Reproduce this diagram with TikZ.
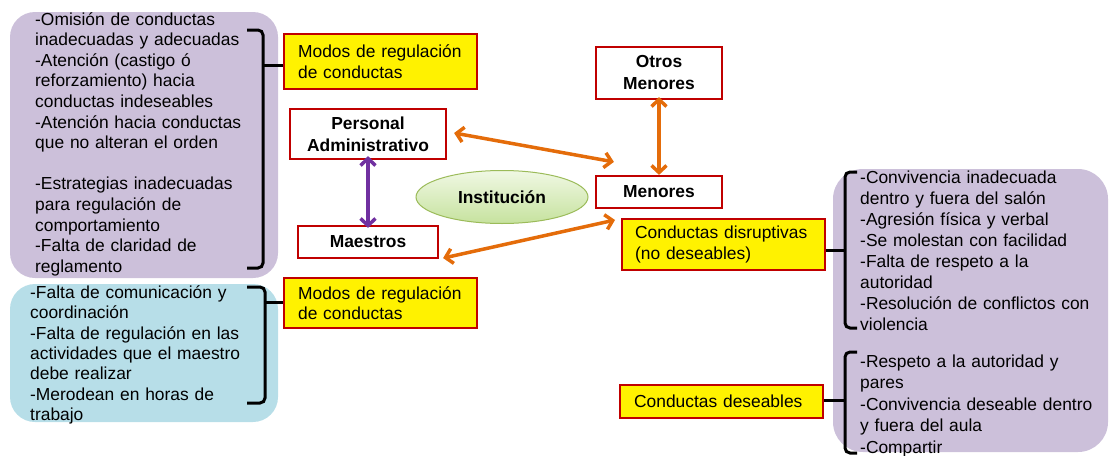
\documentclass[tikz,border=0pt]{standalone}
\usepackage{fontspec}
\setmainfont{Liberation Sans}
\usetikzlibrary{arrows.meta,shapes.geometric}
\definecolor{boxred}{HTML}{C00000}
\definecolor{lav}{HTML}{CCC0DA}
\definecolor{lblue}{HTML}{B7DEE8}
\definecolor{arrorange}{HTML}{E46C0A}
\definecolor{arrpurple}{HTML}{7030A0}
\definecolor{elgreen}{HTML}{9BBB59}
\definecolor{eltop}{RGB}{240,248,228}
\definecolor{elbot}{RGB}{198,226,158}
\begin{document}
\begin{tikzpicture}[x=1pt,y=-1pt,
  every node/.style={font=\fontsize{17.4}{20.6}\selectfont},
  redbox/.style={draw=boxred, line width=2.2pt, fill=white, inner sep=0pt,
    font=\fontsize{17.4}{22}\selectfont\bfseries, align=center},
  yelbox/.style={draw=boxred, line width=2.2pt, fill=yellow, inner ysep=0pt,
    anchor=north west, align=left},
  listtext/.style={anchor=base west, inner sep=0pt, align=left, text width=#1},
  dbl/.style={{Straight Barb[length=7pt,width=15pt]}-{Straight Barb[length=7pt,width=15pt]},
    line width=3.5pt, line cap=round},
  brk/.style={line width=3pt, rounded corners=5pt},
]
\useasboundingbox (0,0) rectangle (1110,455);

% background panels
\fill[lav, rounded corners=25pt] (10,12) rectangle (278,278);
\fill[lblue, rounded corners=25pt] (10,284) rectangle (278,422);
\fill[lav, rounded corners=30pt] (833,169) rectangle (1108,452);

% list texts
\node[listtext=245pt] (t1) at (35,25) {-Omisión de conductas\\inadecuadas y adecuadas\\-Atención (castigo ó\\reforzamiento) hacia\\conductas indeseables\\-Atención hacia conductas\\que no alteran el orden\\[20.6pt]-Estrategias inadecuadas\\para regulación de\\comportamiento\\-Falta de claridad de\\reglamento};
\node[listtext=245pt, font=\fontsize{17.4}{20.3}\selectfont] (t2) at (30,298.5) {-Falta de comunicación y\\coordinación\\-Falta de regulación en las\\actividades que el maestro\\debe realizar\\-Merodean en horas de\\trabajo};
\node[listtext=250pt, font=\fontsize{17.4}{21.1}\selectfont] (t3) at (860,183) {-Convivencia inadecuada\\dentro y fuera del salón\\-Agresión física y verbal\\-Se molestan con facilidad\\-Falta de respeto a la\\autoridad\\-Resolución de conflictos con\\violencia};
\node[listtext=250pt, font=\fontsize{17.4}{21.6}\selectfont] (t4) at (860,367) {-Respeto a la autoridad y\\pares\\-Convivencia deseable dentro\\y fuera del aula\\-Compartir};

% yellow boxes
\node[yelbox, minimum width=193pt, minimum height=55pt, inner xsep=14pt, text width=165pt] (mod1) at (283,33) {Modos de regulación\\de conductas};
\node[yelbox, minimum width=193pt, minimum height=50pt, inner xsep=14pt, text width=165pt] (mod2) at (283,277) {Modos de regulación\\de conductas};
\node[yelbox, minimum width=203pt, minimum height=51pt, inner xsep=13pt, text width=177pt] (dis) at (621,218) {Conductas disruptivas\\(no deseables)};
\node[yelbox, minimum width=203pt, minimum height=33pt, inner xsep=14pt, text width=175pt] (des) at (619,384) {Conductas deseables};

% red boxes
\node[redbox, minimum width=156pt, minimum height=50pt] (pa) at (368,134) {Personal\\Administrativo};
\node[redbox, minimum width=140pt, minimum height=32pt] (ma) at (368,242) {Maestros};
\node[redbox, minimum width=126pt, minimum height=52pt] (om) at (659,73) {Otros\\Menores};
\node[redbox, minimum width=126pt, minimum height=32pt] (me) at (659,192) {Menores};

% ellipse
\node[ellipse, minimum width=172pt, minimum height=53pt, draw=elgreen, line width=1pt,
  top color=eltop, bottom color=elbot, font=\fontsize{17.4}{20.6}\selectfont\bfseries] (in) at (502,197) {Institución};

% arrows
\draw[dbl, arrpurple] ([yshift=4pt]pa.south) -- ([yshift=-3pt]ma.north);
\draw[dbl, arrorange] ([yshift=3pt]om.south) -- (me.north);
\draw[dbl, arrorange] ([shift={(7,-1)}]pa.east) -- ([shift={(19,-13)}]me.north west);
\draw[dbl, arrorange] ([shift={(4,-1)}]ma.south east) -- ([shift={(-6,2)}]dis.north west);

% brackets
\draw[brk] (247,30) -- (263,30) -- (263,268) -- (247,268);
\draw[line width=3pt] (263,65) -- (mod1.west |- 0,65);
\draw[brk] (247,287) -- (265,287) -- (265,403) -- (247,403);
\draw[line width=3pt] (265,302) -- (mod2.west |- 0,302);
\draw[brk] (857,172) -- (845,172) -- (845,328) -- (857,328);
\draw[line width=3pt] (845,250) -- (dis.east |- 0,250);
\draw[brk] (857,352) -- (845,352) -- (845,453) -- (857,453);
\draw[line width=3pt] (845,400) -- (des.east |- 0,400);
\end{tikzpicture}
\end{document}
